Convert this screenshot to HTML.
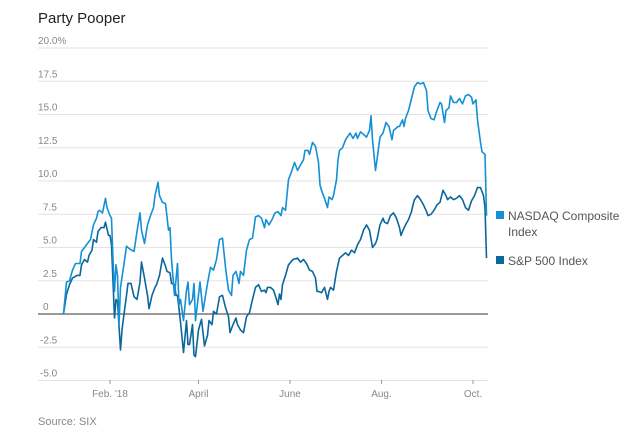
<!DOCTYPE html>
<html><head><meta charset="utf-8"><style>
body{margin:0;background:#fff;width:640px;height:439px;overflow:hidden;font-family:"Liberation Sans",sans-serif}
svg{display:block}
</style></head><body>
<svg id="chart" width="640" height="439" viewBox="0 0 640 439">
<text x="38" y="23" font-size="15" fill="#222">Party Pooper</text>
<g id="grid"></g>
<g id="ylabels" font-size="10" fill="#888"></g>
<g id="xlabels" font-size="10" fill="#888"></g>
<g id="series"></g>
<g font-size="12" fill="#555">
<rect x="496" y="211" width="8" height="8" fill="#1490d4"/>
<text x="508" y="220">NASDAQ Composite</text>
<text x="508" y="236">Index</text>
<rect x="496" y="256" width="8" height="8" fill="#0b679b"/>
<text x="508" y="265">S&amp;P 500 Index</text>
</g>
<text x="38" y="425" font-size="11" fill="#888">Source: SIX</text>
</svg>
<script>
const yTicks=[20,17.5,15,12.5,10,7.5,5,2.5,0,-2.5,-5];
const yTickLabels=["20.0%","17.5","15.0","12.5","10.0","7.5","5.0","2.5","0","-2.5","-5.0"];
const xTickDays=[31,90,151,212,273];
const xTickLabels=["Feb. '18","April","June","Aug.","Oct."];
const nasdaqDays=[0,2,4,6,8,11,12,14,16,18,20,22,23,24,26,28,29,31,32,33,34,35,36,37,38,40,42,44,47,49,51,52,54,56,58,60,61,63,64,66,68,70,71,72,74,76,77,78,80,82,83,84,86,87,88,91,93,96,98,100,102,104,106,108,110,112,113,115,117,118,120,122,124,126,128,130,132,134,135,137,139,141,143,145,146,148,150,152,154,156,158,160,161,163,164,166,168,170,171,172,174,176,177,179,180,182,183,184,186,188,191,193,195,196,198,200,202,204,205,206,208,209,211,213,215,217,218,219,220,223,224,226,227,228,230,232,234,236,238,240,242,243,245,247,249,251,252,254,255,257,258,260,262,264,266,268,270,272,273,275,276,278,279,281,282];
const nasdaqValues=[0,2.4,2.5,3.3,3.8,3.8,4.7,5.0,5.3,5.6,6.7,7.2,7.7,7.8,7.6,8.7,8.0,7.4,7.2,4.1,1.7,3.7,2.9,-0.8,2.0,3.5,5.1,4.9,4.7,6.2,7.6,6.3,5.3,6.7,7.4,8.0,8.9,9.9,8.9,8.4,8.3,6.3,6.5,4.1,1.4,3.8,0.7,1.1,-0.5,1.8,2.4,0.7,1.1,2.3,-0.5,2.4,0.2,2.3,3.5,3.3,4.1,5.6,5.7,3.5,1.8,1.4,2.9,3.2,2.3,3.2,2.9,4.8,5.6,5.7,7.3,7.4,7.2,6.5,7.1,6.7,7.1,7.6,7.7,7.4,8.0,7.8,10.1,10.7,11.4,10.8,11.2,11.6,12.3,12.3,12.0,12.9,12.6,11.4,9.7,9.3,8.7,8.0,8.8,8.6,8.9,10.1,11.6,12.3,12.5,13.1,13.6,13.2,13.6,13.2,13.7,13.5,13.3,13.8,14.9,13.1,10.8,11.6,13.3,13.6,14.4,14.1,13.6,13.1,13.8,14.1,14.1,14.6,14.1,14.7,15.3,16.2,17.1,17.4,17.3,17.4,16.8,15.3,14.7,14.6,15.3,15.9,15.8,14.4,15.3,15.5,16.4,15.9,15.9,16.2,15.8,16.4,16.5,16.3,15.8,16.1,14.6,12.9,12.2,12.0,7.4];
const spDays=[0,2,4,6,9,11,12,14,16,17,19,20,22,23,25,27,28,30,31,32,34,35,36,38,39,40,42,43,45,47,49,51,52,54,56,57,59,61,62,64,66,68,69,71,72,74,75,76,78,80,82,83,84,86,87,88,90,92,94,96,97,99,100,102,104,106,108,110,111,113,115,116,118,120,122,124,126,128,130,132,134,135,136,138,140,142,143,144,145,146,148,150,153,156,158,160,162,164,166,168,169,170,172,174,176,177,178,180,182,184,186,188,190,192,194,196,198,200,202,204,206,208,209,211,213,214,216,218,220,222,224,225,226,228,230,232,233,234,236,238,240,242,243,245,247,249,251,253,255,256,258,260,262,264,266,268,270,272,274,276,278,280,281,282];
const spValues=[0,1.5,2.2,2.7,2.9,2.9,3.7,4.1,3.9,4.4,4.8,5.6,5.4,6.2,6.5,6.5,6.9,5.9,5.9,5.2,-0.3,1.1,0.9,-2.7,-1.2,-0.3,1.4,2.3,2.3,1.3,1.1,2.4,3.9,2.7,1.4,0.4,1.4,2.0,2.2,2.9,4.2,3.6,3.2,3.1,2.3,2.2,1.4,1.4,-0.6,-2.9,-0.5,-2.3,-2.3,-0.8,-3.1,-3.2,-1.2,-0.4,-2.4,-1.6,-0.5,-0.8,0.2,0,1.3,1.4,0.5,-0.2,-1.4,-0.8,-0.3,-0.8,-1.2,-1.4,-0.2,0.1,1.1,2.0,2.2,1.7,1.8,1.6,2.0,2.0,1.8,1.1,0.7,1.5,1.1,2.2,2.9,3.7,4.1,4.2,3.9,4.1,3.8,3.3,3.2,2.7,1.7,1.7,1.6,2.0,1.1,1.7,2.0,1.8,3.2,4.2,4.4,4.6,4.4,4.8,4.6,5.2,5.6,6.3,6.7,6.3,5.0,5.3,5.6,6.7,7.2,6.9,6.8,7.4,7.6,7.2,6.5,5.9,6.2,6.7,7.1,7.7,8.2,8.6,8.9,8.6,8.2,7.7,7.4,7.5,7.8,8.2,8.4,9.3,8.9,8.6,8.8,8.6,8.7,8.9,8.6,8.0,7.8,8.5,8.9,9.5,9.5,8.9,8.0,4.2];

const NS="http://www.w3.org/2000/svg";
const xScale=d=>63.5+d*1.5;
const yScale=v=>314-v*13.3;
function mk(tag,attrs,parent){const e=document.createElementNS(NS,tag);for(const k in attrs)e.setAttribute(k,attrs[k]);parent.appendChild(e);return e;}
const grid=document.getElementById('grid'),yl=document.getElementById('ylabels'),xl=document.getElementById('xlabels'),ser=document.getElementById('series');
yTicks.forEach((t,i)=>{
  const ln=mk('line',{x1:38,x2:488,y1:yScale(t),y2:yScale(t),stroke:t===0?'#333':'#e3e3e3','stroke-width':1},grid);
  
  
  const lbl=yTickLabels[i];
  const tx=mk('text',{x:(lbl.length<=3?43:(lbl[0]==='-'?40:38)),y:yScale(t)-4},yl);
  tx.textContent=lbl;
  
  
});
xTickDays.forEach((d,i)=>{
  const tk=mk('line',{x1:xScale(d),x2:xScale(d),y1:380,y2:384,stroke:'#999'},xl);
  
  
  const tx=mk('text',{x:xScale(d),y:397,'text-anchor':'middle'},xl);
  tx.textContent=xTickLabels[i];
  
  
});
function line(days,vals,color,name){
  const d=days.map((dd,i)=>(i?'L':'M')+xScale(dd).toFixed(1)+','+yScale(vals[i]).toFixed(1)).join('');
  const p=mk('path',{d:d,fill:'none',stroke:color,'stroke-width':1.6,'stroke-linejoin':'round'},ser);
  
  
}
line(spDays,spValues,'#0b679b','sp500-line');
line(nasdaqDays,nasdaqValues,'#1490d4','nasdaq-line');
</script>
</body></html>
